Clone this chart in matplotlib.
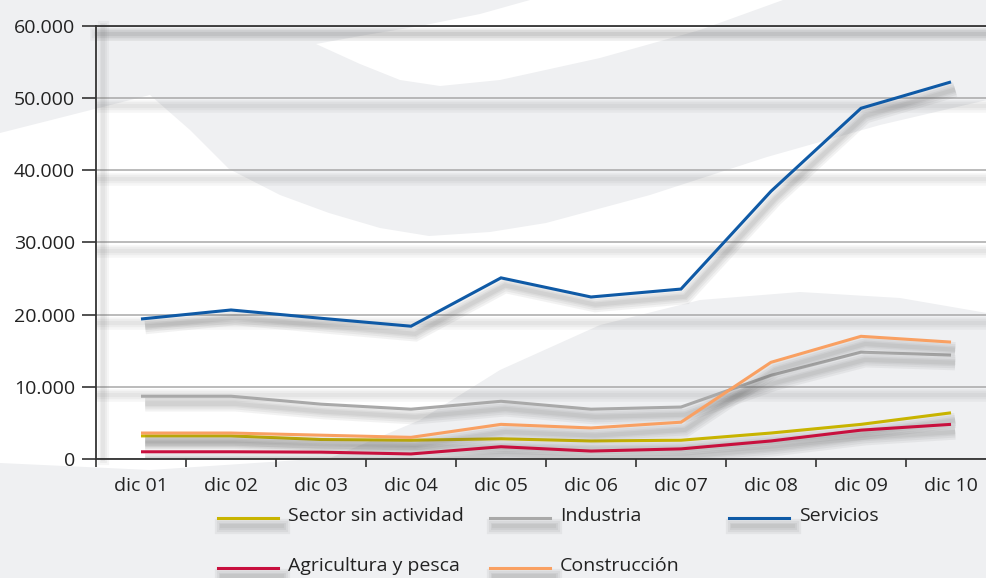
import matplotlib
matplotlib.use("Agg")
import matplotlib.pyplot as plt
import matplotlib.patheffects as pe
from matplotlib.lines import Line2D
from matplotlib.patches import Polygon
from matplotlib.ticker import FuncFormatter, MultipleLocator, FixedLocator

# ---- data ----
categories = ["dic 01", "dic 02", "dic 03", "dic 04", "dic 05",
              "dic 06", "dic 07", "dic 08", "dic 09", "dic 10"]
sector_sin_actividad = [3200, 3200, 2700, 2600, 2800, 2500, 2600, 3600, 4800, 6400]
industria = [8700, 8700, 7600, 6900, 8000, 6900, 7200, 11600, 14800, 14400]
servicios = [19400, 20650, 19500, 18400, 25100, 22450, 23550, 37100, 48600, 52250]
agricultura = [1000, 1000, 950, 700, 1700, 1100, 1400, 2500, 4000, 4800]
construccion = [3600, 3600, 3300, 3000, 4800, 4300, 5100, 13400, 17000, 16200]

series = [
    ("Sector sin actividad", sector_sin_actividad, "#C8B400"),
    ("Industria", industria, "#A9A9A9"),
    ("Servicios", servicios, "#0F5AA6"),
    ("Agricultura y pesca", agricultura, "#C8103E"),
    ("Construcción", construccion, "#F9A062"),
]

plt.rcParams['font.family'] = ['Open Sans', 'DejaVu Sans']

W, H = 987, 578
fig = plt.figure(figsize=(W / 100, H / 100), dpi=100)
fig.patch.set_facecolor("#EFF0F2")


def fpoly(pts, color):
    p = Polygon([(x / W, 1 - y / H) for x, y in pts], closed=True,
                transform=fig.transFigure, facecolor=color, edgecolor="none",
                zorder=-5)
    fig.add_artist(p)


# decorative background (white swooshes)
fpoly([(0, 133), (150, 95), (190, 130), (229, 169), (280, 195), (329, 213),
       (380, 228), (429, 236), (490, 232), (546, 223), (650, 195), (767, 157),
       (880, 125), (987, 100), (987, 313), (900, 298), (800, 292), (700, 300),
       (600, 325), (500, 370), (420, 420), (330, 458), (150, 470), (0, 463)],
      "white")
fpoly([(316, 44), (360, 36), (420, 26), (480, 14), (530, 0), (783, 0),
       (700, 30), (600, 58), (500, 80), (440, 86), (400, 80), (360, 64)], "white")


def soft_shadow(dx, dy, widths, alpha, color="#505050"):
    effs = [pe.SimpleLineShadow(offset=(dx, dy), shadow_color=color, alpha=alpha,
                                linewidth=w) for w in widths]
    return effs + [pe.Normal()]


ax = fig.add_axes([96 / W, 1 - 459 / H, 900 / W, 433 / H])
ax.set_facecolor("none")
ax.set_xlim(-0.5, 9.5)
ax.set_ylim(0, 60000)

line_shadow = soft_shadow(3, -5.5, [11, 8, 5, 3], 0.07)

x = list(range(len(categories)))
for name, vals, col in series:
    ax.plot(x, vals, color=col, lw=2.2, solid_capstyle="butt",
            solid_joinstyle="miter", path_effects=line_shadow, zorder=3)

# grid
ax.yaxis.set_major_locator(MultipleLocator(10000))
ax.yaxis.set_major_formatter(FuncFormatter(lambda v, p: f"{int(v):,}".replace(",", ".")))
ax.grid(axis="y", color="#A8A8A8", lw=1.1)
grid_shadow = soft_shadow(0, -6, [9, 6, 3], 0.05)
for gl in ax.yaxis.get_gridlines():
    gl.set_path_effects(grid_shadow)
ax.set_axisbelow(True)

ax.set_xticks(x)
ax.set_xticklabels(categories)
ax.xaxis.set_minor_locator(FixedLocator([i - 0.5 for i in range(len(categories) + 1)]))
ax.tick_params(axis="x", which="major", length=0, pad=13, labelsize=14, colors="#222222")
ax.tick_params(axis="x", which="minor", length=6, width=1.2, direction="out", color="#333333")
ax.tick_params(axis="y", which="major", length=10, width=1.2, direction="out", pad=5,
               labelsize=14, colors="#333333", labelcolor="#222222")

for s in ["left", "bottom", "top"]:
    ax.spines[s].set_color("#333333")
    ax.spines[s].set_linewidth(1.3)
ax.spines["right"].set_visible(False)
ax.spines["left"].set_path_effects(soft_shadow(5, 0, [8, 5, 3], 0.05))
ax.spines["top"].set_path_effects(grid_shadow)

# legend (manual, layout in figure pixels)
legend_layout = [(0, 218, 518), (1, 490, 518), (2, 729, 518), (3, 218, 568), (4, 490, 568)]
for idx, lx, ly in legend_layout:
    name, vals, col = series[idx]
    ln = Line2D([lx / W, (lx + 60) / W], [1 - ly / H, 1 - ly / H], transform=fig.transFigure,
                color=col, lw=2.2, path_effects=line_shadow)
    fig.add_artist(ln)
    fig.text((lx + 70) / W, 1 - (ly - 2) / H, name, fontsize=14, color="#222222",
             va="center", ha="left")

fig.savefig("out.png", dpi=100, facecolor=fig.get_facecolor())
